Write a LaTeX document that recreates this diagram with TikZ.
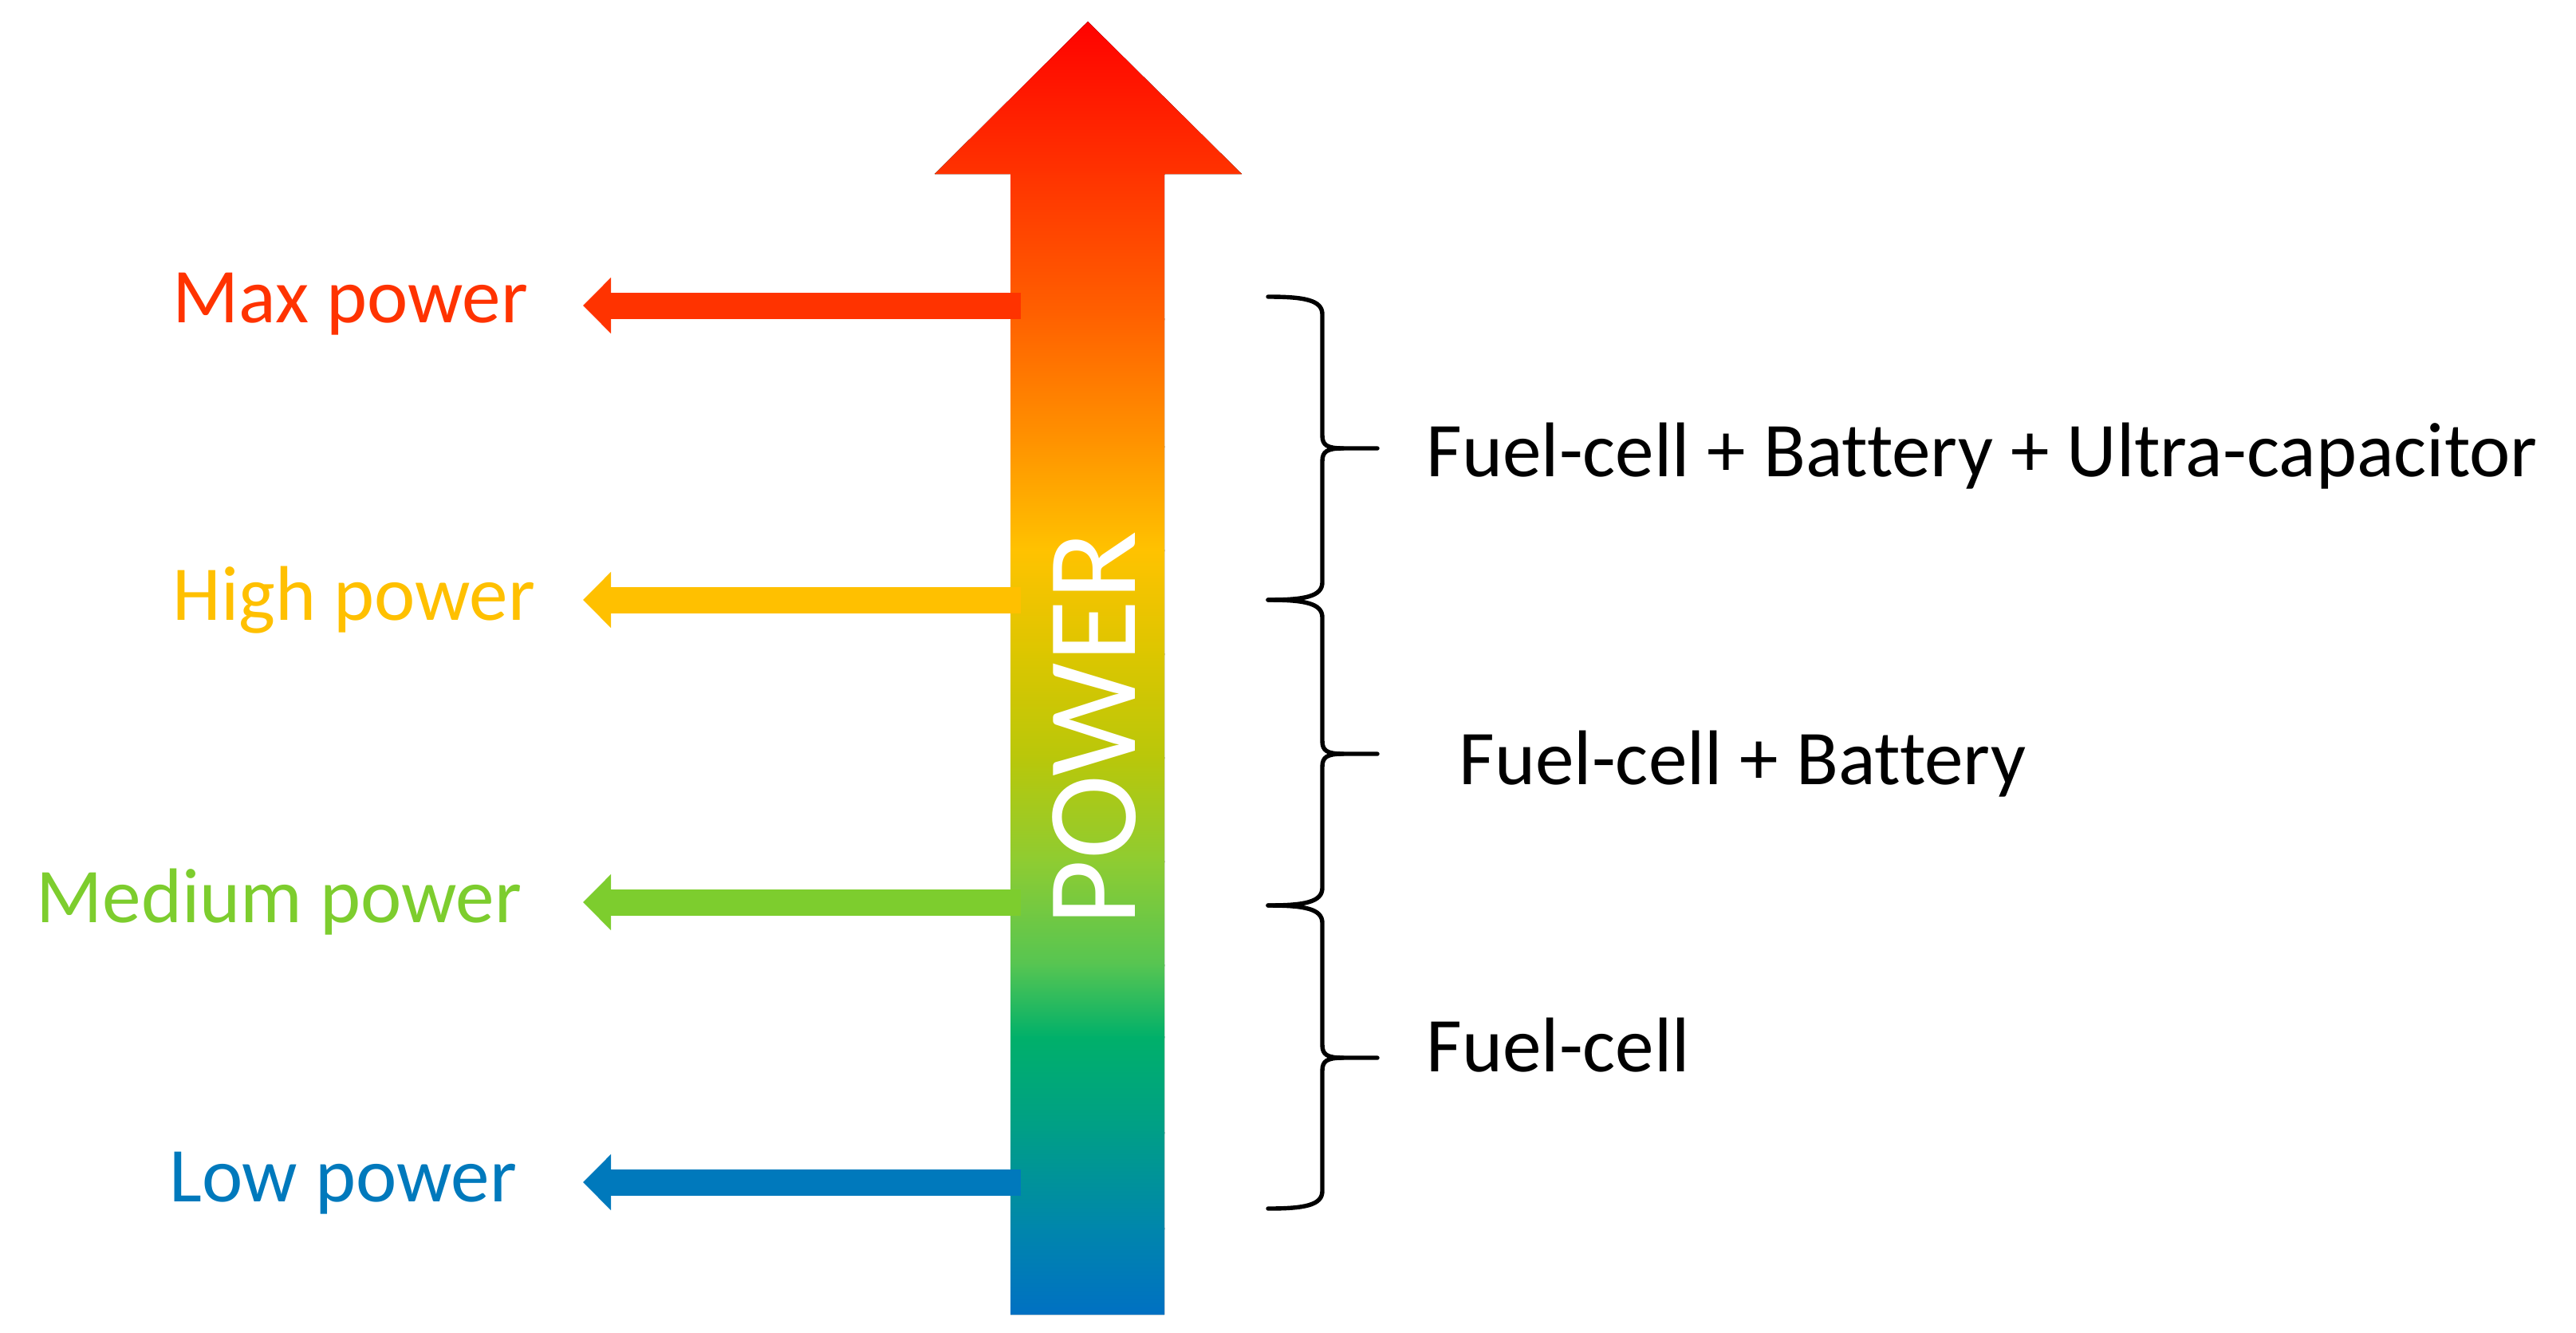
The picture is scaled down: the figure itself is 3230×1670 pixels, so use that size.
\documentclass[tikz,border=0pt]{standalone}
\usepackage{fontspec}
\setmainfont{Carlito}[Ligatures={NoCommon,TeX}]
\usetikzlibrary{arrows.meta}
\definecolor{cmax}{HTML}{FF3300}
\definecolor{chigh}{HTML}{FFC000}
\definecolor{cmed}{HTML}{7DCD2E}
\definecolor{clow}{HTML}{0079BC}
\definecolor{g0}{HTML}{FF0000}
\definecolor{g1}{HTML}{FF3300}
\definecolor{g2}{HTML}{FF6200}
\definecolor{g3}{HTML}{FF9500}
\definecolor{g4}{HTML}{FFC200}
\definecolor{g5}{HTML}{DCC600}
\definecolor{g6}{HTML}{B9C70A}
\definecolor{g7}{HTML}{8ECC32}
\definecolor{g8}{HTML}{56C552}
\definecolor{g9}{HTML}{00B06A}
\definecolor{g10}{HTML}{009E88}
\definecolor{g11}{HTML}{0086AC}
\definecolor{g12}{HTML}{006FC4}
\tikzset{
  lbl/.style={font=\fontsize{24.3pt}{29pt}\selectfont, inner sep=0pt},
  sidearrow/.style={line width=8.25pt, -{Triangle[length=8.75pt,width=17pt]}},
  bracestyle/.style={line width=1.35pt, line cap=round, line join=round},
}
\newcommand\drawpowbrace[3]{%
  \draw[bracestyle] (1590,#1) .. controls (1635,#1) and (1658,{#1+4}) .. (1658,{#1+22})
    -- (1658,{#2-16}) .. controls (1658,{#2-4}) and (1664,#2) .. (1684,#2) -- (1727,#2);
  \draw[bracestyle] (1684,#2) .. controls (1664,#2) and (1658,{#2+4}) .. (1658,{#2+16})
    -- (1658,{#3-22}) .. controls (1658,{#3-4}) and (1635,#3) .. (1590,#3);
}
\begin{document}
\begin{tikzpicture}[x=0.25pt,y=-0.25pt]
\useasboundingbox (0,0) rectangle (3230,1670);
\coordinate (s1) at (1280,383);  \coordinate (t1) at (731,383);
\coordinate (s2) at (1280,752);  \coordinate (t2) at (731,752);
\coordinate (s3) at (1280,1131); \coordinate (t3) at (731,1131);
\coordinate (s4) at (1280,1482); \coordinate (t4) at (731,1482);
% main arrow with gradient
\begin{scope}
  \clip (1267,1648) -- (1267,218) -- (1172,218) -- (1364,27) -- (1557,218)
        -- (1460,218) -- (1460,1648) -- cycle;
  \foreach \ya/\yb/\ca/\cb in {20/218/g0/g1, 218/400/g1/g2, 400/560/g2/g3, 560/690/g3/g4,
      690/820/g4/g5, 820/950/g5/g6, 950/1080/g6/g7, 1080/1210/g7/g8, 1210/1300/g8/g9,
      1300/1420/g9/g10, 1420/1540/g10/g11, 1540/1655/g11/g12}{
    \fill[top color=\ca, bottom color=\cb] (1100,{\ya-1}) rectangle (1600,{\yb+1});
  }
\end{scope}
\draw[sidearrow, cmax]  (s1) -- (t1);
\draw[sidearrow, chigh] (s2) -- (t2);
\draw[sidearrow, cmed]  (s3) -- (t3);
\draw[sidearrow, clow]  (s4) -- (t4);
\node[rotate=90, text=white, inner sep=0pt, font=\fontsize{40pt}{48pt}\selectfont] (power) at (1372,913) {POWER};
% left labels
\node[lbl, text=cmax,  anchor=base east] (lmax)  at (663,404)  {Max power};
\node[lbl, text=chigh, anchor=base east] (lhigh) at (672,777)  {High power};
\node[lbl, text=cmed,  anchor=base east] (lmed)  at (655,1156) {Medium power};
\node[lbl, text=clow,  anchor=base east] (llow)  at (649,1506) {Low power};
% braces
\drawpowbrace{372}{562}{752}
\drawpowbrace{752}{945}{1135}
\drawpowbrace{1135}{1326}{1515}
% right labels
\node[lbl, anchor=base west] (r1) at (1788,597)  {Fuel-cell + Battery + Ultra-capacitor};
\node[lbl, anchor=base west] (r2) at (1829,983)  {Fuel-cell + Battery};
\node[lbl, anchor=base west] (r3) at (1788,1343) {Fuel-cell};
\end{tikzpicture}
\end{document}
